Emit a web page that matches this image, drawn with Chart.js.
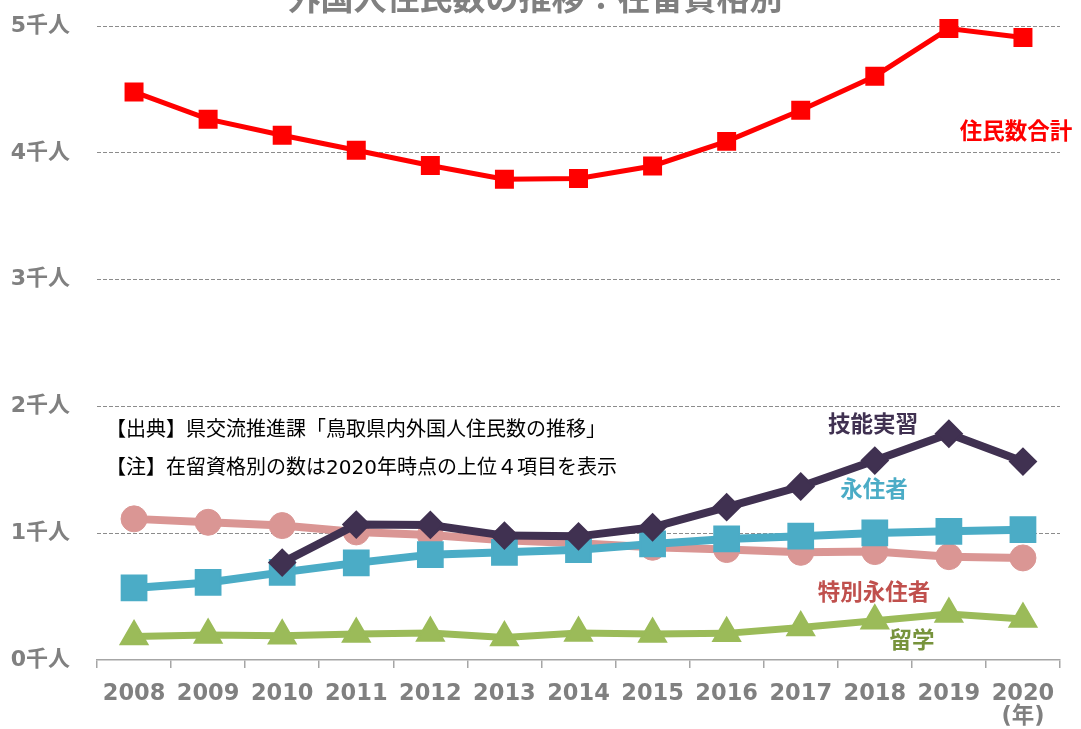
<!DOCTYPE html>
<html>
<head>
<meta charset="utf-8">
<script src="https://cdn.jsdelivr.net/npm/chart.js@4.4.1/dist/chart.umd.min.js"></script>
<style>
  html, body { margin: 0; padding: 0; background: #ffffff; }
  #c { display: block; }
</style>
</head>
<body>
<canvas id="c" width="1081" height="729"></canvas>
<script>
// ---- data ----
const years = ['2008', '2009', '2010', '2011', '2012', '2013', '2014', '2015', '2016', '2017', '2018', '2019', '2020'];
const yearUnit = '(年)';
const yTickMax = 5000;
const yTickStep = 1000;
const yTickUnit = '千人';

const totalResidents = [4480, 4265, 4138, 4020, 3900, 3791, 3797, 3896, 4090, 4335, 4604, 4980, 4909];
const technicalIntern = [null, null, 768, 1068, 1065, 981, 975, 1047, 1205, 1368, 1573, 1784, 1565];
const permanentResident = [568, 612, 691, 766, 831, 849, 870, 915, 955, 976, 1002, 1015, 1028];
const specialPermanent = [1113, 1086, 1060, 1010, 985, 945, 920, 889, 871, 849, 855, 815, 805];
const students = [186, 197, 192, 205, 213, 178, 213, 205, 210, 257, 310, 363, 324];

const seriesNames = ['住民数合計', '技能実習', '永住者', '特別永住者', '留学'];
const titleText = '外国人住民数の推移：在留資格別';
const noteLines = ['【出典】県交流推進課「鳥取県内外国人住民数の推移」', '【注】在留資格別の数は2020年時点の上位４項目を表示'];

// ---- chart ----
const labels = years.map((y, i) => i === years.length - 1 ? [y, yearUnit] : y);
const FONT = "'DejaVu Sans', 'Noto Sans CJK JP', sans-serif";
const JFONT = "'Noto Sans CJK JP', sans-serif";
const GRAY = '#808080';

const seriesLabels = [
  { text: seriesNames[0], x: 1016, y: 130, color: '#FF0000' },
  { text: seriesNames[1], x: 873, y: 423, color: '#403151' },
  { text: seriesNames[2], x: 874, y: 488, color: '#4BACC6' },
  { text: seriesNames[3], x: 874, y: 591, color: '#C0504D' },
  { text: seriesNames[4], x: 912, y: 639, color: '#77933C' }
];

const textPlugin = {
  id: 'texts',
  afterDatasetsDraw(chart) {
    const ctx = chart.ctx;
    ctx.save();
    // title (partly cut off at the top)
    ctx.fillStyle = GRAY;
    ctx.font = "bold 33px " + JFONT;
    ctx.textAlign = 'center';
    ctx.textBaseline = 'alphabetic';
    ctx.fillText(titleText, 535, 10);
    // notes
    ctx.fillStyle = '#000000';
    ctx.font = "20px " + FONT;
    ctx.textAlign = 'left';
    ctx.textBaseline = 'middle';
    ctx.fillText(noteLines[0], 106, 431);
    ctx.fillText(noteLines[1], 106, 469);
    // series labels
    ctx.font = "bold 22.5px " + JFONT;
    ctx.textAlign = 'center';
    seriesLabels.forEach(l => {
      ctx.fillStyle = l.color;
      ctx.fillText(l.text, l.x, l.y);
    });
    ctx.restore();
  }
};

const lineDs = (label, data, color, width, style, radius, border) => ({
  label, data,
  borderColor: color,
  backgroundColor: color,
  borderWidth: width,
  pointStyle: style,
  pointRadius: radius,
  pointHoverRadius: radius,
  pointBorderWidth: border,
  pointBorderColor: color,
  pointBackgroundColor: color,
  tension: 0,
  clip: false
});

new Chart(document.getElementById('c'), {
  type: 'line',
  data: {
    labels: labels,
    datasets: [
      lineDs(seriesNames[0], totalResidents, '#FF0000', 5, 'rect', 12, 2),
      lineDs(seriesNames[1], technicalIntern, '#403151', 8, 'rectRot', 13, 2),
      lineDs(seriesNames[2], permanentResident, '#4BACC6', 8, 'rect', 17.5, 2),
      lineDs(seriesNames[4], students, '#9BBB59', 7, 'triangle', 15.5, 2),
      lineDs(seriesNames[3], specialPermanent, '#DA9694', 8, 'circle', 13, 1)
    ]
  },
  options: {
    responsive: false,
    animation: false,
    devicePixelRatio: 1,
    layout: { padding: { top: 26, right: 21, bottom: 0, left: 0 } },
    plugins: {
      legend: { display: false },
      title: { display: false },
      tooltip: { enabled: false }
    },
    scales: {
      x: {
        offset: true,
        afterFit(scale) { scale.height = 69; },
        grid: {
          offset: true,
          drawOnChartArea: false,
          drawTicks: true,
          tickLength: 8,
          color: '#A6A6A6',
          lineWidth: 1.5
        },
        border: { display: true, color: '#A6A6A6', width: 1.5 },
        ticks: {
          color: GRAY,
          font: { family: FONT, size: 22.5, weight: 'bold', lineHeight: 1.05 },
          padding: 14,
          maxRotation: 0,
          autoSkip: false
        }
      },
      y: {
        min: 0,
        max: yTickMax,
        afterFit(scale) {
          scale.width = 97;
          scale.paddingTop = 0;
          scale.paddingBottom = 0;
        },
        ticks: {
          stepSize: yTickStep,
          color: GRAY,
          font: { family: FONT, size: 22, weight: 'bold' },
          padding: 27,
          callback: v => (v / 1000) + yTickUnit
        },
        grid: {
          drawTicks: false,
          color: ctx => ctx.tick && ctx.tick.value === 0 ? 'rgba(0,0,0,0)' : '#8C8C8C',
          lineWidth: 1
        },
        border: { display: false, dash: [4, 2] }
      }
    }
  },
  plugins: [textPlugin]
});
</script>
</body>
</html>
